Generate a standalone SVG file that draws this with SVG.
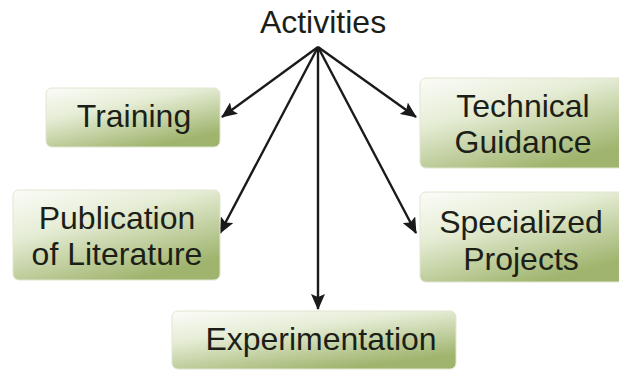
<svg xmlns="http://www.w3.org/2000/svg" width="619" height="370" viewBox="0 0 619 370">
<defs>
<linearGradient id="g" x1="0" y1="0" x2="0.6" y2="1">
<stop offset="0" stop-color="#fbfcf8"/>
<stop offset="0.4" stop-color="#e6edd6"/>
<stop offset="1" stop-color="#9fb46d"/>
</linearGradient>
<marker id="a" viewBox="0 0 16 14" refX="15" refY="7" markerWidth="16" markerHeight="14" markerUnits="userSpaceOnUse" orient="auto">
<path d="M0,0 L16,7 L0,14 L3,7 z" fill="#1a1a1a"/>
</marker>
</defs>
<style>
.box{fill:url(#g);stroke:#dfe6d0;stroke-width:1}
.t{font-family:"Liberation Sans",Arial,sans-serif;font-size:32px;fill:#1c1f17;text-anchor:middle}
.c{stroke:#1a1a1a;stroke-width:2.4;fill:none;marker-end:url(#a)}
</style>
<rect width="619" height="370" fill="#ffffff"/>
<g id="activities">
<text class="t" x="323" y="33">Activities</text>
</g>
<g id="connectors">
<line class="c" x1="318" y1="47" x2="222" y2="117"/>
<line class="c" x1="318" y1="47" x2="220" y2="233"/>
<line class="c" x1="318" y1="47" x2="318" y2="309"/>
<line class="c" x1="318" y1="47" x2="416" y2="233"/>
<line class="c" x1="318" y1="47" x2="416" y2="117"/>
</g>
<g id="training">
<rect class="box" x="46" y="88" width="174" height="59" rx="6"/>
<text class="t" x="134" y="127">Training</text>
</g>
<g id="technical">
<rect class="box" x="420" y="78" width="205" height="90" rx="6"/>
<text class="t" x="523" y="117">Technical</text>
<text class="t" x="523" y="153">Guidance</text>
</g>
<g id="publication">
<rect class="box" x="13" y="190" width="207" height="90" rx="6"/>
<text class="t" x="117" y="229">Publication</text>
<text class="t" x="117" y="265">of Literature</text>
</g>
<g id="specialized">
<rect class="box" x="420" y="192" width="205" height="90" rx="6"/>
<text class="t" x="521" y="233">Specialized</text>
<text class="t" x="521" y="270">Projects</text>
</g>
<g id="experimentation">
<rect class="box" x="172" y="311" width="284" height="58" rx="6"/>
<text class="t" x="321" y="350">Experimentation</text>
</g>
</svg>
